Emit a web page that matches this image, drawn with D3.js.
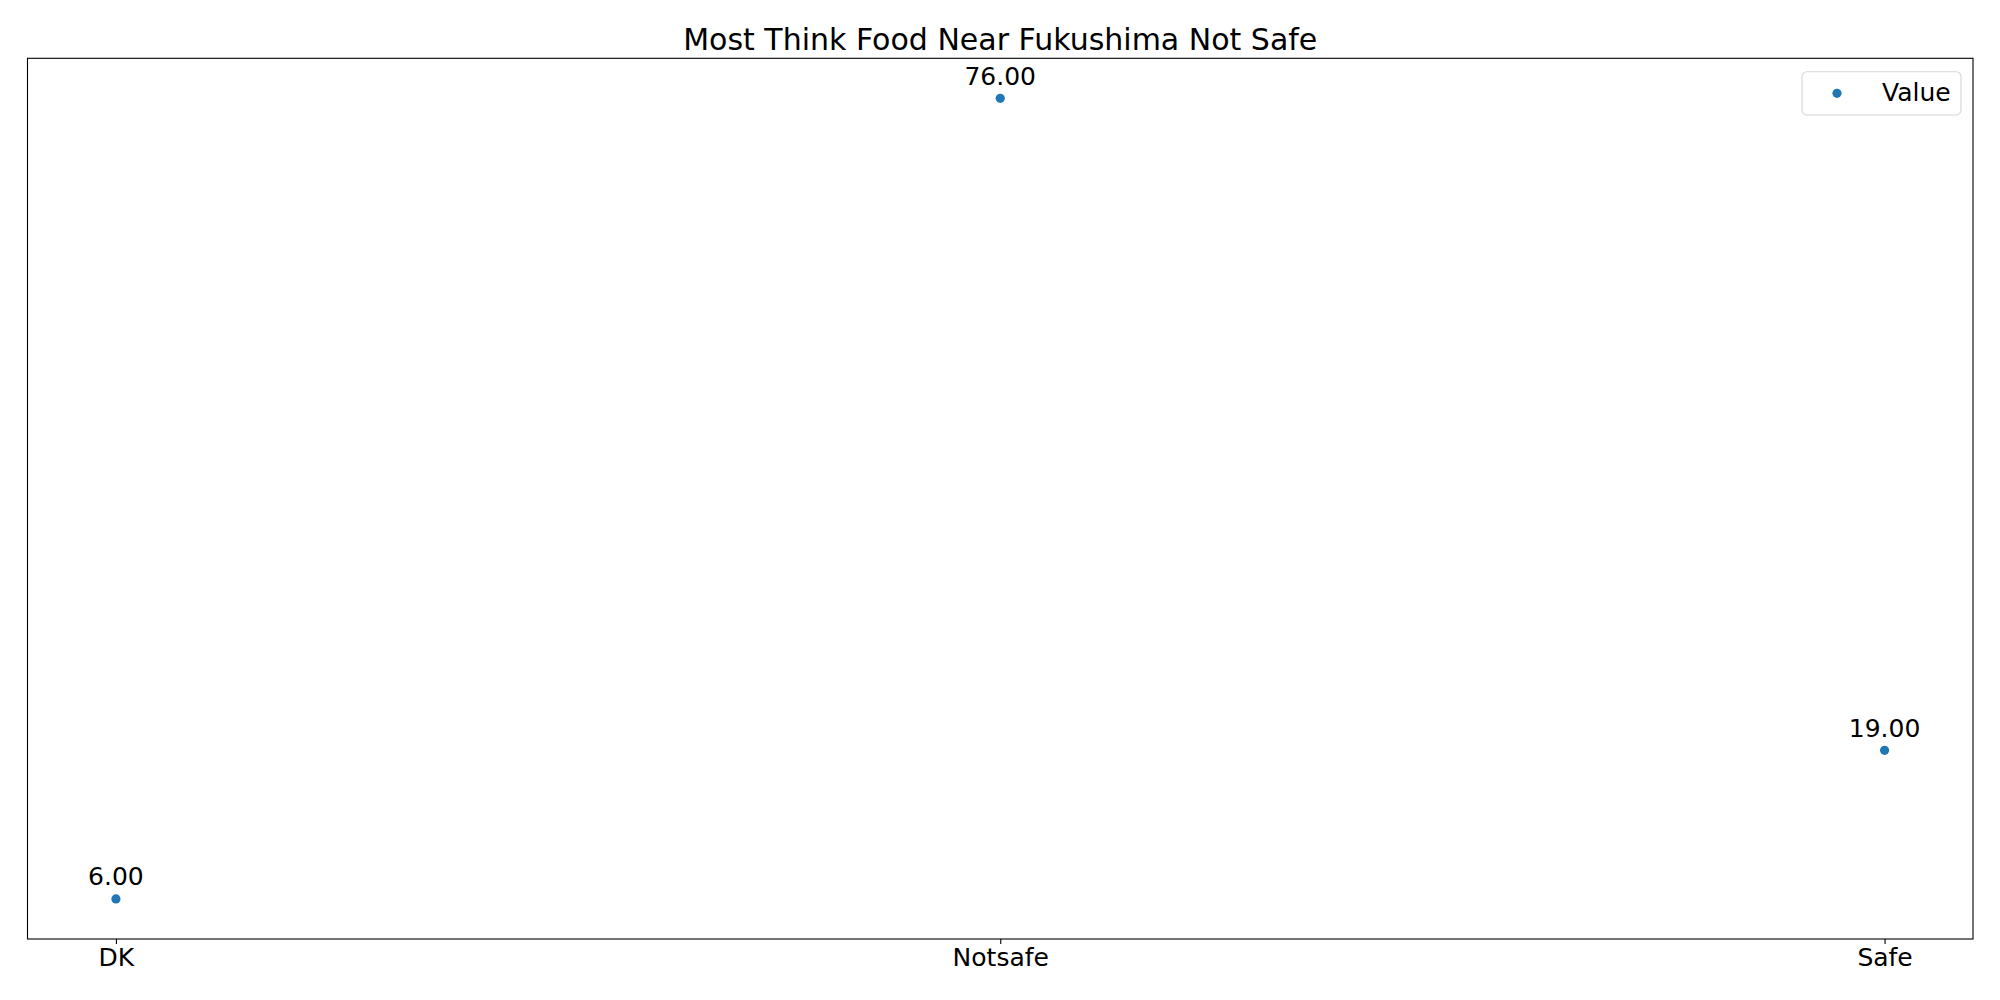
<!DOCTYPE html>
<html>
<head>
<meta charset="utf-8">
<script src="https://cdn.jsdelivr.net/npm/d3@7"></script>
<style>
  html, body { margin: 0; padding: 0; background: #fff; }
  svg { display: block; font-family: "DejaVu Sans", sans-serif; }
</style>
</head>
<body>
<svg id="chart" width="2000" height="1000"></svg>
<script>
const categories = ["DK", "Notsafe", "Safe"];
const values = [6, 76, 19];
const seriesName = "Value";
const chartTitle = "Most Think Food Near Fukushima Not Safe";

(function () {
const svg = d3.select("#chart");
const mLeft = 27.5, mRight = 1973, mTop = 58.3, mBottom = 939;
const color = "#1f77b4";

const x = d3.scalePoint().domain(categories).range([mLeft, mRight]).padding(0.1);
const yMin = d3.min(values), yMax = d3.max(values);
const pad = (yMax - yMin) * 0.05;
const y = d3.scaleLinear().domain([yMin - pad, yMax + pad]).range([mBottom, mTop]);

// frame
svg.append("rect")
  .attr("x", mLeft).attr("y", mTop)
  .attr("width", mRight - mLeft).attr("height", mBottom - mTop)
  .attr("fill", "none").attr("stroke", "#000").attr("stroke-width", 1.1);

// x axis
const xAxis = d3.axisBottom(x).tickSize(4.9).tickPadding(4.8);
const gx = svg.append("g").attr("transform", `translate(0,${mBottom})`).call(xAxis);
gx.select(".domain").remove();
gx.selectAll(".tick line").attr("stroke", "#000").attr("stroke-width", 1.1);
gx.selectAll(".tick text")
  .attr("font-size", 25).attr("fill", "#000")
  .attr("font-family", "DejaVu Sans, sans-serif");

// points
const data = categories.map((c, i) => ({c, v: values[i]}));
svg.append("g").selectAll("circle").data(data).join("circle")
  .attr("cx", d => x(d.c)).attr("cy", d => y(d.v))
  .attr("r", 4.6).attr("fill", color);

// labels
svg.append("g").selectAll("text").data(data).join("text")
  .attr("x", d => x(d.c)).attr("y", d => y(d.v) - 13.5)
  .attr("text-anchor", "middle")
  .attr("font-size", 25).attr("fill", "#000")
  .text(d => d.v.toFixed(2));

// title
svg.append("text")
  .attr("x", (mLeft + mRight) / 2).attr("y", 50)
  .attr("text-anchor", "middle")
  .attr("font-size", 30).attr("fill", "#000")
  .text(chartTitle);

// legend
const lg = svg.append("g");
lg.append("rect")
  .attr("x", 1802).attr("y", 71.7).attr("width", 159).attr("height", 43.3)
  .attr("rx", 5).attr("ry", 5)
  .attr("fill", "#fff").attr("fill-opacity", 0.8)
  .attr("stroke", "#d6d6d6").attr("stroke-width", 1.1);
lg.append("circle").attr("cx", 1837).attr("cy", 93.3).attr("r", 4.6).attr("fill", color);
lg.append("text").attr("x", 1882).attr("y", 100.5)
  .attr("font-size", 25).attr("fill", "#000").text(seriesName);
})();
</script>
</body>
</html>
